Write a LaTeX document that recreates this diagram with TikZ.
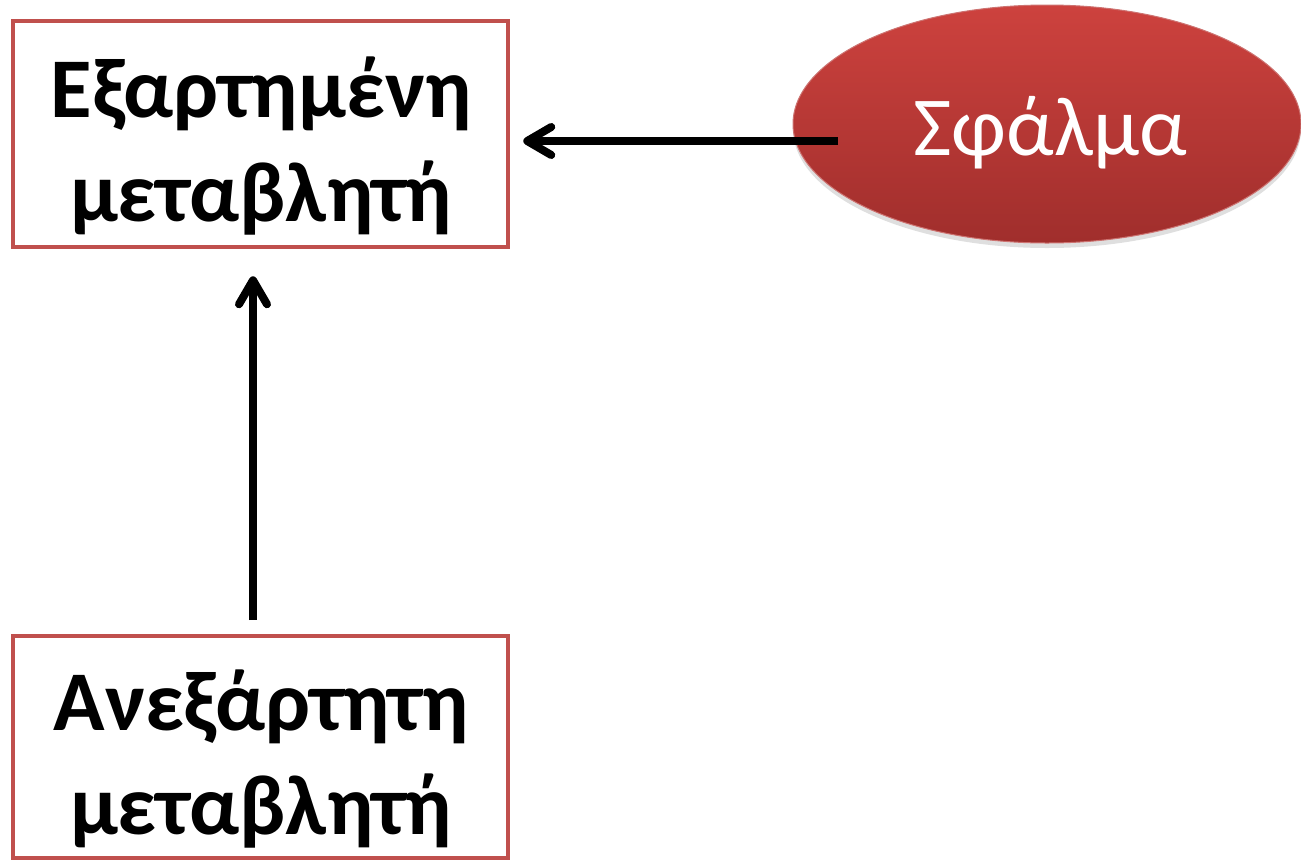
\documentclass[tikz,border=0pt]{standalone}
\usepackage{fontspec}
\setmainfont{Carlito}
\usetikzlibrary{arrows.meta,shadows,shapes.geometric}
\definecolor{boxred}{HTML}{C0504D}
\definecolor{errtop}{HTML}{CD423E}
\definecolor{errbot}{HTML}{A02E2C}
\tikzset{
  varbox/.style={draw=boxred, line width=4.5pt, rectangle, inner sep=0pt},
  varlabel/.style={align=center, inner sep=0pt, font=\fontsize{85}{104}\selectfont\bfseries},
  errshape/.style={ellipse, draw=boxred!80!white, line width=1pt, top color=errtop, bottom color=errbot,
    inner sep=0pt, drop shadow={opacity=0.25, shadow xshift=0pt, shadow yshift=-5pt}},
  errlabel/.style={inner sep=0pt, text=white, font=\fontsize{84}{100}\selectfont},
  conn/.style={line width=7.5pt, draw=black,
    -{Straight Barb[length=24pt, width=28pt, line width=8pt, line cap=round, line join=round]}}
}
\begin{document}
\begin{tikzpicture}[x=1pt, y=-1pt]
  \useasboundingbox (0,0) rectangle (1301,860);

  % dependent variable box
  \node[varbox, minimum width=495pt, minimum height=226pt] (dep) at (260.5,134) {};
  \node[varlabel] (deplabel) at (261,146) {Εξαρτημένη\\μεταβλητή};

  % independent variable box (runs off the bottom edge)
  \node[varbox, minimum width=495pt, minimum height=222pt] (indep) at (260.5,747) {};
  \node[varlabel] (indeplabel) at (261,759) {Ανεξάρτητη\\μεταβλητή};

  % error term
  \node[errshape, minimum width=508pt, minimum height=238pt] (err) at (1047,124) {};
  \node[errlabel] (errlabel) at (1050,133) {Σφάλμα};

  % connectors
  \coordinate (errtail) at (838,141);
  \coordinate (indtail) at (253,620);
  \draw[conn, shorten >=13pt] (errtail) -- (errtail -| dep.east);
  \draw[conn, shorten >=27pt] (indtail) -- (indtail |- dep.south);
\end{tikzpicture}
\end{document}
